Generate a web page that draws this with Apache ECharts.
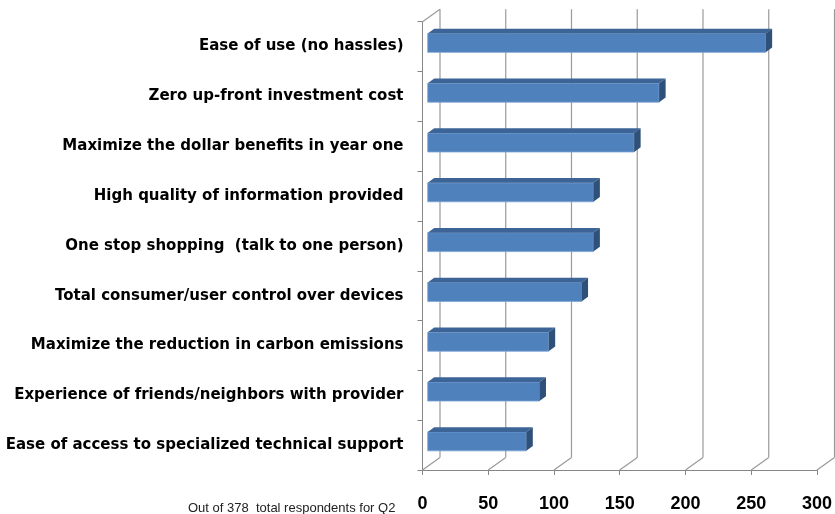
<!DOCTYPE html>
<html>
<head>
<meta charset="utf-8">
<script src="https://cdn.jsdelivr.net/npm/echarts@6/dist/echarts.min.js"></script>
<style>
  html, body { margin: 0; padding: 0; background: #fff; }
  #chart { width: 835px; height: 514px; }
</style>
</head>
<body>
<div id="chart"></div>
<script>
var categories = [
  'Ease of use (no hassles)',
  'Zero up-front investment cost',
  'Maximize the dollar benefits in year one',
  'High quality of information provided',
  'One stop shopping  (talk to one person)',
  'Total consumer/user control over devices',
  'Maximize the reduction in carbon emissions',
  'Experience of friends/neighbors with provider',
  'Ease of access to specialized technical support'
];
var values = [257, 176, 157, 126, 126, 117, 92, 85, 75];
var xTicks = [0, 50, 100, 150, 200, 250, 300];
var note = 'Out of 378  total respondents for Q2';

// fake 3d: depth of the walls and where the bars sit inside it
var DEPTH_X = 17.5, DEPTH_Y = 12.5;
var FACE_X = 5.2, FACE_Y = 3.7;
var BAR_DX = 6.5, BAR_DY = 4.8;
var gridColor = '#9a9a9a';

var chart = echarts.init(document.getElementById('chart'));

function renderWall(params, api) {
  var v = api.value(0);
  var cs = params.coordSys;
  var x = api.coord([v, 0])[0];
  var top = cs.y, bottom = cs.y + cs.height;
  var style = { stroke: gridColor, lineWidth: 1.2, fill: null };
  var children = [
    { type: 'line', shape: { x1: x + DEPTH_X, y1: top - DEPTH_Y, x2: x + DEPTH_X, y2: bottom - DEPTH_Y }, style: style },
    { type: 'line', shape: { x1: x, y1: bottom, x2: x + DEPTH_X, y2: bottom - DEPTH_Y }, style: style }
  ];
  if (v === xTicks[0]) {
    children.push({ type: 'line', shape: { x1: x, y1: top, x2: x + DEPTH_X, y2: top - DEPTH_Y }, style: style });
  }
  return { type: 'group', children: children };
}

function renderBar(params, api) {
  var cat = api.value(0), val = api.value(1);
  var p0 = api.coord([0, cat]);
  var p1 = api.coord([val, cat]);
  var band = api.size([0, 1])[1];
  var h = band * 0.38;
  var x0 = p0[0] + FACE_X, x1 = p1[0] + FACE_X;
  var yt = p0[1] - FACE_Y - h / 2, yb = yt + h;
  return {
    type: 'group',
    children: [
      { type: 'rect', shape: { x: x0, y: yt, width: x1 - x0, height: h },
        style: { fill: '#4f81bd', stroke: '#7ea3d3', lineWidth: 0.8 } },
      { type: 'polygon', shape: { points: [[x0, yt], [x1, yt], [x1 + BAR_DX, yt - BAR_DY], [x0 + BAR_DX, yt - BAR_DY]] },
        style: { fill: '#3d6496' } },
      { type: 'polygon', shape: { points: [[x1, yt], [x1 + BAR_DX, yt - BAR_DY], [x1 + BAR_DX, yb - BAR_DY], [x1, yb]] },
        style: { fill: '#2f5078' } }
    ]
  };
}

var option = {
  animation: false,
  title: {
    text: note,
    left: 183,
    top: 497,
    textStyle: { fontSize: 13, fontWeight: 'normal', color: '#222', fontFamily: 'Liberation Sans' }
  },
  grid: { left: 422.5, right: 16.7, top: 21.7, bottom: 44, containLabel: false },
  xAxis: {
    type: 'value',
    min: 0,
    max: 300,
    interval: 50,
    axisLine: { show: true, lineStyle: { color: '#868686', width: 1 } },
    axisTick: { show: true, length: 5, lineStyle: { color: '#868686' } },
    splitLine: { show: false },
    axisLabel: { margin: 25, fontSize: 18, fontWeight: 'bold', color: '#000', fontFamily: 'Liberation Sans' }
  },
  yAxis: {
    type: 'category',
    data: categories,
    inverse: true,
    axisLine: { show: true, lineStyle: { color: '#868686', width: 1 } },
    axisTick: { show: true, length: 5, lineStyle: { color: '#868686' } },
    axisLabel: { margin: 19, fontSize: 15, fontWeight: 'bold', color: '#000', fontFamily: 'DejaVu Sans' }
  },
  series: [
    {
      type: 'custom',
      renderItem: renderWall,
      data: xTicks,
      encode: { x: 0 },
      silent: true,
      z: 1
    },
    {
      type: 'custom',
      renderItem: renderBar,
      data: values.map(function (v, i) { return [i, v]; }),
      encode: { x: 1, y: 0 },
      z: 2
    }
  ]
};

chart.setOption(option);
</script>
</body>
</html>
